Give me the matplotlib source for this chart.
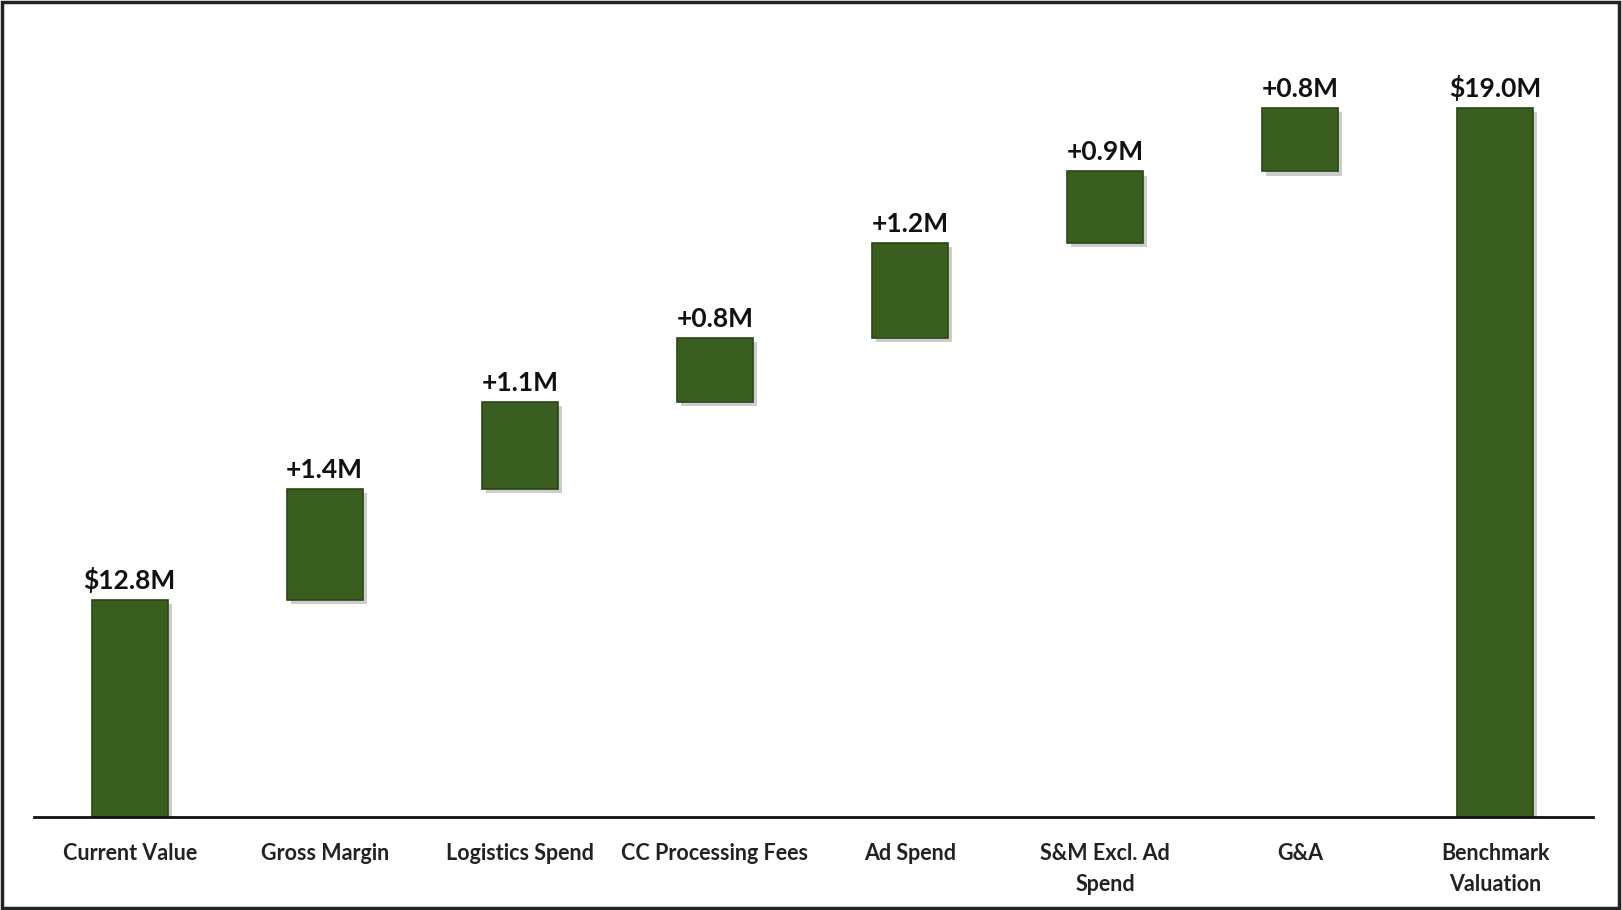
import numpy as np
from matplotlib import pyplot as plt
from matplotlib import patheffects as pe
from matplotlib.patches import Rectangle

categories = ['Current Value', 'Gross Margin', 'Logistics Spend', 'CC Processing Fees',
              'Ad Spend', 'S&M Excl. Ad\nSpend', 'G&A', 'Benchmark\nValuation']
start_value = 12.8
increments = [1.4, 1.1, 0.8, 1.2, 0.9, 0.8]
end_value = 19.0

bar_color = '#3a5e1f'
edge_color = '#2a4515'

# waterfall bottoms / heights
bottoms = [0]
heights = [start_value]
running = start_value
for inc in increments:
    bottoms.append(running)
    heights.append(inc)
    running += inc
bottoms.append(0)
heights.append(end_value)

labels = ['$%.1fM' % start_value] + ['+%.1fM' % v for v in increments] + ['$%.1fM' % end_value]

plt.rcParams['font.family'] = ['Lato', 'DejaVu Sans']

fig = plt.figure(figsize=(16.22, 9.10), dpi=100)
ax = fig.add_axes([0.021, 0.1023, 0.961, 0.8777])

x = np.arange(len(categories))
bars = ax.bar(x, heights, bottom=bottoms, width=0.39, color=bar_color,
              edgecolor=edge_color, linewidth=1.2, zorder=3)
for b in bars:
    b.set_path_effects([pe.SimplePatchShadow(offset=(3, -3), shadow_rgbFace='#9a9a9a', alpha=0.5),
                        pe.Normal()])

for xi, bot, h, lab in zip(x, bottoms, heights, labels):
    ax.annotate(lab, (xi, bot + h), xytext=(0, 5), textcoords='offset points',
                ha='center', va='bottom', fontsize=19, fontweight='bold', color='#111111')

ax.set_xlim(-0.49, 7.5)
ax.set_ylim(10.07, 20.13)
ax.set_xticks(x)
ax.set_xticklabels(categories, fontsize=15.5, fontweight='bold', color='#222222', linespacing=1.55)
ax.tick_params(axis='x', length=0, pad=19)
ax.set_yticks([])
for s in ['top', 'left', 'right']:
    ax.spines[s].set_visible(False)
ax.spines['bottom'].set_linewidth(2)
ax.spines['bottom'].set_color('#111111')
ax.spines['bottom'].set_zorder(4)

# frame around the figure
fig.patches.append(Rectangle((0.001, 0.002), 0.997, 0.996, transform=fig.transFigure,
                             fill=False, edgecolor='#222222', linewidth=2.5))

fig.savefig('out.png', dpi=100)
